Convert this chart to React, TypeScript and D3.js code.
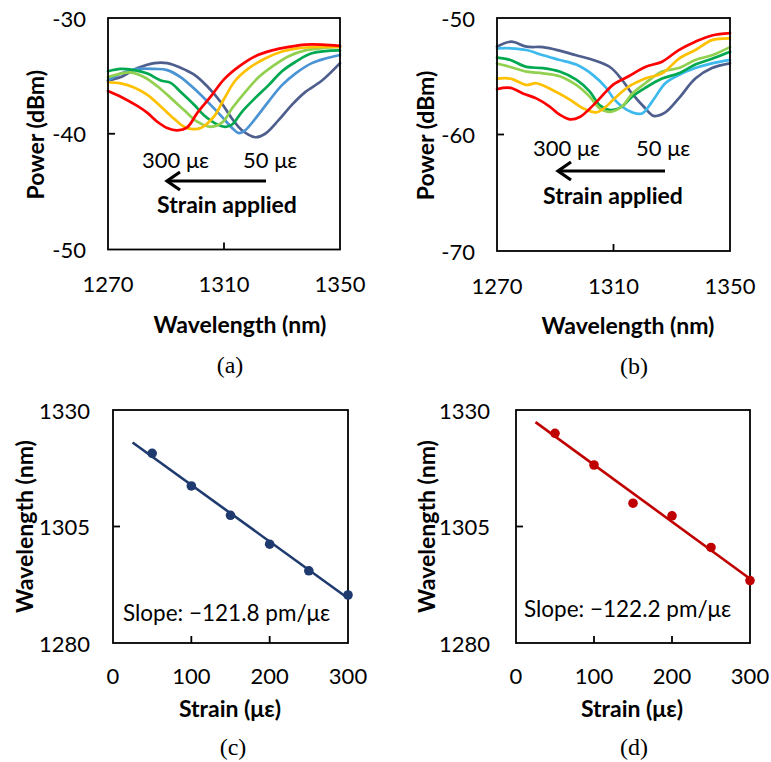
import React from 'react';
import * as d3 from 'd3';

// ---------- data ----------
const wavelengthTicks = [1270, 1310, 1350];
const powerTicksA = [-30, -40, -50];
const powerTicksB = [-50, -60, -70];
const strainTicks = [0, 100, 200, 300];
const peakTicks = [1280, 1305, 1330];
const strainLabels = ['50 με', '100 με', '150 με', '200 με', '250 με', '300 με'];

// panel (a) spectra [wavelength nm, power dBm]
const specA50 = [[1270,-35.4],[1274.4,-35.1],[1280,-34.35],[1286,-33.9],[1290.4,-33.9],[1295,-34.3],[1299.7,-34.9],[1304.2,-35.9],[1309,-37.3],[1312.8,-38.7],[1316.2,-39.7],[1320.8,-40.3],[1324.2,-40.0],[1328.9,-38.8],[1333.4,-37.5],[1338,-36.4],[1343.8,-35.4],[1350,-33.9]];
const specA100 = [[1270,-35.4],[1274.4,-34.8],[1280,-34.4],[1286,-34.4],[1290.4,-34.5],[1295,-35.1],[1299.7,-36.1],[1304.2,-37.2],[1309,-38.45],[1312.8,-39.5],[1315.1,-39.95],[1317.3,-39.7],[1320.8,-38.7],[1325.4,-37.2],[1330,-35.8],[1334.6,-34.8],[1340.3,-33.9],[1345,-33.5],[1350,-33.2]];
const specA150 = [[1270,-34.6],[1274.4,-34.4],[1279,-34.5],[1283.6,-34.8],[1288.2,-35.4],[1291.6,-35.6],[1295.1,-36.4],[1299.7,-37.5],[1303.1,-38.4],[1307.7,-39.2],[1310.5,-39.4],[1312.8,-39.2],[1316.2,-38.1],[1320.8,-36.9],[1325.4,-35.8],[1330,-34.6],[1334.6,-33.8],[1340.3,-33.05],[1350,-32.8]];
const specA200 = [[1270,-35.1],[1274.4,-34.8],[1277.8,-34.7],[1282.4,-35.1],[1287,-35.9],[1291.6,-36.9],[1296.2,-37.95],[1300.8,-38.96],[1305.4,-39.4],[1309.5,-39.0],[1312.8,-37.8],[1317.3,-36.4],[1322,-35.1],[1326.6,-34.2],[1332.3,-33.3],[1338,-32.8],[1343.8,-32.6],[1350,-32.5]];
const specA250 = [[1270,-35.55],[1274.4,-35.65],[1279,-36],[1283.6,-36.65],[1288.2,-37.65],[1292.8,-38.7],[1296.2,-39.4],[1299.1,-39.6],[1302,-39.5],[1306.6,-38.5],[1310,-37.0],[1313.9,-35.4],[1318.5,-34.35],[1324.2,-33.5],[1330,-32.9],[1335.8,-32.6],[1342.6,-32.5],[1350,-32.5]];
const specA300 = [[1270,-36.3],[1274.4,-36.8],[1280.1,-37.6],[1283.6,-38.2],[1287,-38.96],[1290.4,-39.5],[1293.9,-39.7],[1297.3,-39.45],[1300.8,-38.2],[1305.4,-36.8],[1310,-35.3],[1315.1,-34.2],[1320.8,-33.3],[1326.6,-32.8],[1332.3,-32.5],[1338,-32.3],[1343.8,-32.3],[1350,-32.4]];

// panel (b) spectra
const specB50 = [[1270,-52.46],[1274.9,-52.03],[1280.1,-52.46],[1285.8,-52.5],[1291.5,-52.8],[1297.2,-53.2],[1303,-53.6],[1309,-54.25],[1312.9,-55.3],[1316.4,-56.5],[1320.9,-57.75],[1323.8,-58.4],[1327.8,-58.1],[1332.4,-56.9],[1338.1,-55.2],[1343.8,-54.3],[1350,-53.9]];
const specB100 = [[1270,-52.6],[1274.6,-52.6],[1280.1,-52.75],[1285.8,-53.2],[1291.5,-53.6],[1297.2,-54.0],[1303,-54.9],[1307.5,-56.0],[1310,-56.9],[1312.9,-57.6],[1316.4,-58.1],[1319.8,-58.2],[1323.2,-57.2],[1327.8,-55.6],[1332.4,-54.9],[1338.1,-54.3],[1343.8,-53.9],[1350,-53.6]];
const specB150 = [[1270,-53.4],[1274.6,-53.6],[1280.1,-54.2],[1285.8,-54.3],[1291.5,-54.6],[1297.2,-55.3],[1301.8,-56.3],[1305.3,-57.5],[1309,-57.9],[1312.9,-57.6],[1316.4,-56.75],[1320.9,-56.0],[1326.7,-55.2],[1332.4,-54.75],[1338.1,-54.0],[1343.8,-53.5],[1350,-52.9]];
const specB200 = [[1270,-53.9],[1274.6,-54.2],[1280.1,-54.6],[1285.8,-54.75],[1291.5,-55.0],[1297.2,-55.75],[1301.8,-56.75],[1305.3,-57.75],[1309,-58.05],[1312.9,-57.6],[1316.4,-56.5],[1320.9,-55.6],[1326.7,-54.6],[1332.4,-54.3],[1338.1,-53.6],[1343.8,-53.2],[1350,-52.5]];
const specB250 = [[1270,-55.2],[1274.6,-55.2],[1280.1,-55.75],[1283.5,-55.6],[1289.2,-56.2],[1295,-57.0],[1299.5,-57.75],[1304.1,-58.1],[1307,-57.7],[1310,-57.0],[1315.2,-55.9],[1320.9,-55.2],[1326.7,-54.75],[1332.4,-53.5],[1338.1,-52.75],[1343.8,-51.9],[1350,-51.75]];
const specB300 = [[1270,-56.1],[1274.6,-56.0],[1279.1,-56.5],[1283.5,-56.9],[1288.1,-57.6],[1291.5,-58.3],[1295,-58.7],[1298.4,-58.5],[1303,-57.5],[1307.5,-56.3],[1310,-55.7],[1315.2,-55.0],[1320.9,-54.2],[1326.7,-53.75],[1332.4,-52.75],[1338.1,-52.03],[1343.8,-51.5],[1350,-51.3]];

// panels (c), (d): dip wavelength vs strain
const strainValues = [50, 100, 150, 200, 250, 300];
const dipWavelengthC = [1320.7, 1313.7, 1307.4, 1301.2, 1295.5, 1290.3];
const dipWavelengthD = [1325.0, 1318.2, 1310.0, 1307.3, 1300.5, 1293.4];
const fitStrainRange = [25, 300];

const colorsA = ['#4E5F8E', '#4A94D4', '#00A84F', '#92D050', '#FFC000', '#FF0000'];
const colorsB = ['#4E5F8E', '#3DB9EE', '#00A84F', '#92D050', '#FFC000', '#FF0000'];

const FONT = "Lato, 'Open Sans', sans-serif";
const SERIF = "'Liberation Serif', 'Times New Roman', serif";
const TICK = 22;
const TITLE = 23;

type Pt = number[];

function SpectrumPanel(props: {
  left: number; top: number; width: number; height: number;
  yDomain: number[]; yTicks: number[]; series: Pt[][]; colors: string[];
  ann: { t300x: number; t50x: number; ty: number; ax1: number; ax2: number; ay: number; sx: number; sy: number };
  yTitleX: number; xTitleX: number; capX: number; caption: string;
}) {
  const { left, top, width, height, yDomain, yTicks, series, colors, ann } = props;
  const x = d3.scaleLinear().domain([1270, 1350]).range([left, left + width]);
  const y = d3.scaleLinear().domain(yDomain).range([top + height, top]);
  const line = d3.line<Pt>().x(d => x(d[0])).y(d => y(d[1])).curve(d3.curveCatmullRom.alpha(0.5));
  const midY = yTicks[1];
  const midX = wavelengthTicks[1];
  return (
    <g>
      {series.map((s, i) => (
        <path key={i} d={line(s) || ''} fill="none" stroke={colors[i]} strokeWidth={2.7} strokeLinejoin="round" strokeLinecap="round" />
      ))}
      <rect x={left} y={top} width={width} height={height} fill="none" stroke="#000" strokeWidth={1.8} />
      <line x1={left} x2={left + 7} y1={y(midY)} y2={y(midY)} stroke="#000" strokeWidth={1.8} />
      <line x1={x(midX)} x2={x(midX)} y1={top + height} y2={top + height - 7} stroke="#000" strokeWidth={1.8} />
      {yTicks.map(t => (
        <text key={t} x={left - 22} y={y(t)} textAnchor="end" dominantBaseline="central" fontFamily={FONT} fontSize={TICK} fill="#000">{t}</text>
      ))}
      {wavelengthTicks.map(t => (
        <text key={t} x={x(t)} y={top + height + 34} textAnchor="middle" dominantBaseline="central" fontFamily={FONT} fontSize={TICK} fill="#000">{t}</text>
      ))}
      <text x={props.xTitleX} y={top + height + 74} textAnchor="middle" dominantBaseline="central" fontFamily={FONT} fontWeight="bold" fontSize={TITLE} fill="#000">Wavelength (nm)</text>
      <text transform={`translate(${props.yTitleX},${top + height / 2 + 1}) rotate(-90)`} textAnchor="middle" dominantBaseline="central" fontFamily={FONT} fontWeight="bold" fontSize={TITLE} fill="#000">Power (dBm)</text>
      <text x={props.capX} y={top + height + 115} textAnchor="middle" dominantBaseline="central" fontFamily={SERIF} fontSize={24} fill="#000">{props.caption}</text>
      <text x={ann.t300x} y={ann.ty} dominantBaseline="central" fontFamily={FONT} fontSize={TICK} fill="#000">{strainLabels[5]}</text>
      <text x={ann.t50x} y={ann.ty} dominantBaseline="central" fontFamily={FONT} fontSize={TICK} fill="#000">{strainLabels[0]}</text>
      <line x1={ann.ax1} x2={ann.ax2 + 2} y1={ann.ay} y2={ann.ay} stroke="#000" strokeWidth={3.2} />
      <path d={`M${ann.ax2 + 14},${ann.ay - 9} L${ann.ax2 + 1},${ann.ay} L${ann.ax2 + 14},${ann.ay + 9}`} fill="none" stroke="#000" strokeWidth={3.2} strokeLinejoin="miter" />
      <text x={ann.sx} y={ann.sy} textAnchor="middle" dominantBaseline="central" fontFamily={FONT} fontWeight="bold" fontSize={TITLE} fill="#000">Strain applied</text>
    </g>
  );
}

function FitPanel(props: {
  left: number; top: number; width: number; height: number;
  values: number[]; color: string; slopeText: string; slopeX: number; slopeY: number;
  yTitleX: number; xTitleX: number; capX: number; caption: string; yLabelGap: number;
}) {
  const { left, top, width, height, values, color } = props;
  const x = d3.scaleLinear().domain([0, 300]).range([left, left + width]);
  const y = d3.scaleLinear().domain([1280, 1330]).range([top + height, top]);
  const mx = d3.mean(strainValues) as number;
  const my = d3.mean(values) as number;
  let sxy = 0, sxx = 0;
  strainValues.forEach((s, i) => { sxy += (s - mx) * (values[i] - my); sxx += (s - mx) * (s - mx); });
  const slope = sxy / sxx;
  const icpt = my - slope * mx;
  const fitPts = fitStrainRange.map(s => [s, icpt + slope * s]);
  return (
    <g>
      <rect x={left} y={top} width={width} height={height} fill="none" stroke="#000" strokeWidth={1.8} />
      <line x1={left} x2={left + 7} y1={y(1305)} y2={y(1305)} stroke="#000" strokeWidth={1.8} />
      {[100, 200].map(t => (
        <line key={t} x1={x(t)} x2={x(t)} y1={top + height} y2={top + height - 7} stroke="#000" strokeWidth={1.8} />
      ))}
      <line x1={x(fitPts[0][0])} y1={y(fitPts[0][1])} x2={x(fitPts[1][0])} y2={y(fitPts[1][1])} stroke={color} strokeWidth={2.6} />
      {strainValues.map((s, i) => (
        <circle key={s} cx={x(s)} cy={y(values[i])} r={4.8} fill={color} />
      ))}
      <text x={props.slopeX} y={props.slopeY} dominantBaseline="central" fontFamily={FONT} fontSize={22.5} fill="#000">{props.slopeText}</text>
      {peakTicks.map(t => (
        <text key={t} x={left - props.yLabelGap} y={y(t)} textAnchor="end" dominantBaseline="central" fontFamily={FONT} fontSize={TICK} fill="#000">{t}</text>
      ))}
      {strainTicks.map(t => (
        <text key={t} x={x(t)} y={top + height + 32} textAnchor="middle" dominantBaseline="central" fontFamily={FONT} fontSize={TICK} fill="#000">{t}</text>
      ))}
      <text x={props.xTitleX} y={top + height + 65} textAnchor="middle" dominantBaseline="central" fontFamily={FONT} fontWeight="bold" fontSize={TITLE} fill="#000">Strain (με)</text>
      <text transform={`translate(${props.yTitleX},${top + height / 2}) rotate(-90)`} textAnchor="middle" dominantBaseline="central" fontFamily={FONT} fontWeight="bold" fontSize={TITLE} fill="#000">Wavelength (nm)</text>
      <text x={props.capX} y={top + height + 104} textAnchor="middle" dominantBaseline="central" fontFamily={SERIF} fontSize={24} fill="#000">{props.caption}</text>
    </g>
  );
}

export default function App() {
  return (
    <svg width={771} height={762} style={{ position: 'absolute', left: 0, top: 0, background: '#fff' }}>
      <rect x={0} y={0} width={771} height={762} fill="#fff" />
      <SpectrumPanel left={108} top={18} width={232} height={231.5} yDomain={[-50, -30]} yTicks={powerTicksA}
        series={[specA50, specA100, specA150, specA200, specA250, specA300]} colors={colorsA}
        ann={{ t300x: 142, t50x: 243, ty: 159, ax1: 266, ax2: 166, ay: 181, sx: 227, sy: 204 }}
        yTitleX={35} xTitleX={240} capX={230} caption="(a)" />
      <SpectrumPanel left={497} top={18} width={233} height={233} yDomain={[-70, -50]} yTicks={powerTicksB}
        series={[specB50, specB100, specB150, specB200, specB250, specB300]} colors={colorsB}
        ann={{ t300x: 533, t50x: 636, ty: 147, ax1: 665, ax2: 557, ay: 171, sx: 613, sy: 195 }}
        yTitleX={425} xTitleX={628} capX={634} caption="(b)" />
      <FitPanel left={113} top={410} width={235} height={233} values={dipWavelengthC} color="#1F3A6E"
        slopeText="Slope: −121.8 pm/με" slopeX={123} slopeY={612}
        yTitleX={24} xTitleX={230} capX={233} caption="(c)" yLabelGap={23} />
      <FitPanel left={516} top={410} width={234} height={233} values={dipWavelengthD} color="#C00000"
        slopeText="Slope: −122.2 pm/με" slopeX={524} slopeY={608}
        yTitleX={426} xTitleX={632} capX={634} caption="(d)" yLabelGap={26} />
    </svg>
  );
}
